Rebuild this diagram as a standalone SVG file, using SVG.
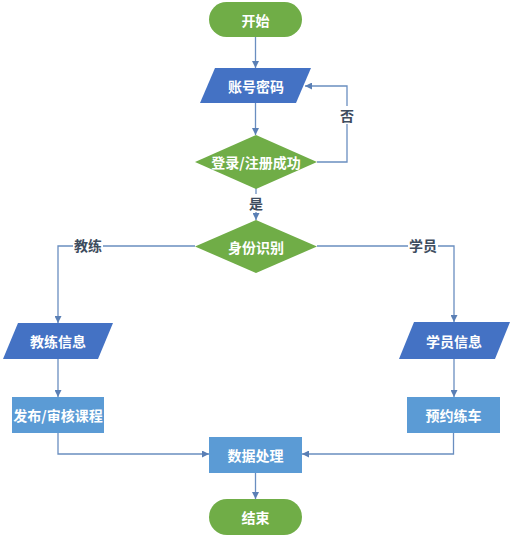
<svg xmlns="http://www.w3.org/2000/svg" width="513" height="538" viewBox="0 0 513 538">
<style>
.term{fill:#70AD47;}
.dia{fill:#70AD47;}
.para{fill:#4472C4;}
.proc{fill:#5B9BD5;}
.t{font-family:"Noto Sans CJK SC","Noto Sans",sans-serif;font-size:14px;font-weight:bold;fill:#ffffff;text-anchor:middle;dominant-baseline:central;}
.lbl{font-family:"Noto Sans CJK SC","Noto Sans",sans-serif;font-size:14px;font-weight:bold;fill:#3E4C5E;text-anchor:middle;dominant-baseline:central;}
.c{fill:none;stroke:#6A8EC0;stroke-width:1.3;marker-end:url(#ah);}
</style>
<defs>
<marker id="ah" viewBox="0 0 10 10" refX="10" refY="5" markerWidth="7" markerHeight="7" markerUnits="userSpaceOnUse" orient="auto">
<path d="M0,0 L10,5 L0,10 z" fill="#5A7FB5"/>
</marker>
</defs>
<rect width="513" height="538" fill="#ffffff"/>
<g id="connectors">
<line class="c" x1="255.5" y1="37" x2="255.5" y2="68"/>
<line class="c" x1="255.5" y1="103" x2="255.5" y2="135"/>
<polyline class="c" points="317,162 347,162 347,86 305,86"/>
<line class="c" x1="256" y1="188" x2="256" y2="220"/>
<polyline class="c" points="195,246 58,246 58,323"/>
<polyline class="c" points="317,246 454,246 454,322"/>
<line class="c" x1="58" y1="359" x2="58" y2="397"/>
<line class="c" x1="454" y1="359" x2="454" y2="397"/>
<polyline class="c" points="58,433 58,454 209,454"/>
<polyline class="c" points="453.5,433 453.5,454 302,454"/>
<line class="c" x1="255.5" y1="473" x2="255.5" y2="499"/>
</g>
<g id="label-no"><rect x="338" y="106" width="18" height="18" fill="#ffffff"/><text class="lbl" x="347" y="115">否</text></g>
<g id="label-yes"><rect x="247" y="194" width="18" height="18" fill="#ffffff"/><text class="lbl" x="256" y="203">是</text></g>
<g id="label-coach"><rect x="73" y="237" width="30" height="18" fill="#ffffff"/><text class="lbl" x="88" y="245">教练</text></g>
<g id="label-student"><rect x="408" y="237" width="30" height="18" fill="#ffffff"/><text class="lbl" x="423" y="245">学员</text></g>
<g id="start"><rect class="term" x="209" y="2" width="93" height="35" rx="17.5"/><text class="t" x="255.5" y="19.5">开始</text></g>
<g id="account"><polygon class="para" points="215,68 311,68 296,103 200,103"/><text class="t" x="256" y="85.5">账号密码</text></g>
<g id="login"><polygon class="dia" points="256,135 317,162 256,189 195,162"/><text class="t" x="256" y="162">登录/注册成功</text></g>
<g id="identify"><polygon class="dia" points="256,220 317,246.5 256,273 195,246.5"/><text class="t" x="256" y="246.5">身份识别</text></g>
<g id="coach-info"><polygon class="para" points="18,323 113,323 98,359 3,359"/><text class="t" x="58" y="341">教练信息</text></g>
<g id="student-info"><polygon class="para" points="414,322 510,322 495,359 399,359"/><text class="t" x="454" y="340.5">学员信息</text></g>
<g id="publish"><rect class="proc" x="12" y="397" width="92" height="36"/><text class="t" x="58" y="415">发布/审核课程</text></g>
<g id="book"><rect class="proc" x="407" y="397" width="93" height="36"/><text class="t" x="453.5" y="415">预约练车</text></g>
<g id="process"><rect class="proc" x="209" y="437" width="93" height="36"/><text class="t" x="255.5" y="455">数据处理</text></g>
<g id="end"><rect class="term" x="209" y="499" width="93" height="36" rx="18"/><text class="t" x="255.5" y="517">结束</text></g>
</svg>
